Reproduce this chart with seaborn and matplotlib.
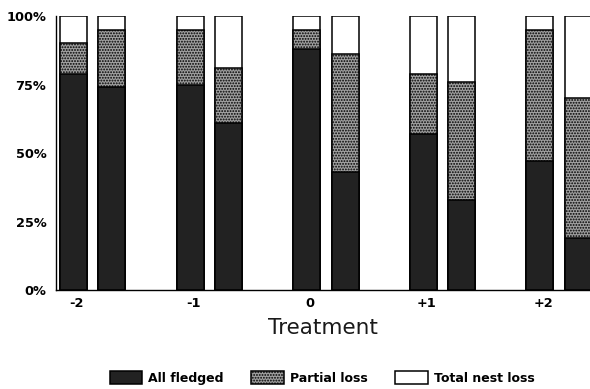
import numpy as np
import pandas as pd
import matplotlib
matplotlib.use("Agg")
import matplotlib.pyplot as plt
import seaborn as sns
from matplotlib.patches import Patch

# Nest outcome (% of nests) for each treatment, two bars per treatment
treatments = ["-2", "-1", "0", "+1", "+2"]
pairs = ["a", "b"]
fledged_a = [79, 75, 88, 57, 47]
fledged_b = [74, 61, 43, 33, 19]
partial_a = [11, 20, 7, 22, 48]
partial_b = [21, 20, 43, 43, 51]
total_loss_a = [10, 5, 5, 21, 5]
total_loss_b = [5, 19, 14, 24, 30]
legend_labels = ["All fledged", "Partial loss", "Total nest loss"]

rows = []
for i, t in enumerate(treatments):
    rows.append(dict(treatment=t, pair="a", fledged=fledged_a[i],
                     partial=partial_a[i], total=total_loss_a[i]))
    rows.append(dict(treatment=t, pair="b", fledged=fledged_b[i],
                     partial=partial_b[i], total=total_loss_b[i]))
df = pd.DataFrame(rows)
# cumulative heights for stacking
df["top_fledged"] = df["fledged"]
df["top_partial"] = df["fledged"] + df["partial"]
df["top_total"] = df["top_partial"] + df["total"]

sns.set_style("white")
plt.rcParams["hatch.linewidth"] = 0.9
plt.rcParams["font.family"] = ["DejaVu Sans"]
plt.rcParams["text.color"] = "black"
plt.rcParams["axes.labelcolor"] = "black"
plt.rcParams["xtick.color"] = "black"
plt.rcParams["ytick.color"] = "black"

fig = plt.figure(figsize=(5.9, 3.89), dpi=100)
ax = fig.add_axes([56 / 590, 1 - 290 / 389, 1 - 56 / 590, (290 - 16) / 389])

black = "#222222"
stipple = "#a0a0a0"
common = dict(x="treatment", hue="pair", order=treatments, hue_order=pairs,
              dodge=True, width=0.66, gap=0.3, edgecolor="black",
              linewidth=1.1, legend=False, ax=ax, errorbar=None)

sns.barplot(data=df, y="top_total", palette=["white", "white"], **common)
sns.barplot(data=df, y="top_partial", palette=[stipple, stipple],
            hatch="......", **common)
sns.barplot(data=df, y="top_fledged", palette=[black, black], **common)

ax.set_ylim(0, 100)
ax.set_xlim(-0.315, 4.265)
ax.set_yticks([0, 25, 50, 75, 100])
ax.set_yticklabels(["0%", "25%", "50%", "75%", "100%"])
ax.set_xticks([i - 0.135 for i in range(len(treatments))])
ax.set_xticklabels(treatments)
ax.tick_params(axis="both", length=0, labelsize=9.3)
ax.tick_params(axis="y", pad=7)
ax.tick_params(axis="x", pad=5)
for lbl in ax.get_xticklabels() + ax.get_yticklabels():
    lbl.set_fontweight("bold")
ax.set_ylabel("")
ax.set_xlabel("Treatment", fontsize=15.5, labelpad=6, color="#1a1a1a")

sns.despine(ax=ax)
for s in ("left", "bottom"):
    ax.spines[s].set_color("black")
    ax.spines[s].set_linewidth(1.0)

handles = [
    Patch(facecolor=black, edgecolor="black", linewidth=1.1),
    Patch(facecolor=stipple, edgecolor="black", hatch="......", linewidth=1.1),
    Patch(facecolor="white", edgecolor="black", linewidth=1.1),
]
fig.legend(handles, legend_labels, loc="center", bbox_to_anchor=(0.546, 0.028),
           ncol=3, frameon=False, handlelength=2.6, handleheight=1.2,
           handletextpad=0.5, columnspacing=2.2,
           prop=dict(size=9, weight="bold"))

fig.savefig("out.png", dpi=100)
